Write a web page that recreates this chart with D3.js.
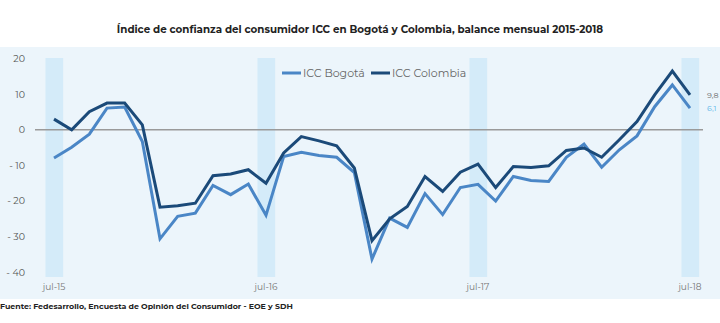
<!DOCTYPE html>
<html><head><meta charset="utf-8">
<script src="https://cdn.jsdelivr.net/npm/d3@7/dist/d3.min.js"></script>
<style>body{margin:0;background:#fff;}svg{display:block;font-family:Montserrat,"Open Sans",Lato,sans-serif;}</style>
</head><body>
<svg id="c" width="720" height="323"></svg>
<script>
const months = ["jul-15","ago-15","sep-15","oct-15","nov-15","dic-15","ene-16","feb-16","mar-16","abr-16","may-16","jun-16",
"jul-16","ago-16","sep-16","oct-16","nov-16","dic-16","ene-17","feb-17","mar-17","abr-17","may-17","jun-17",
"jul-17","ago-17","sep-17","oct-17","nov-17","dic-17","ene-18","feb-18","mar-18","abr-18","may-18","jun-18","jul-18"];
const bogota = [-7.9,-4.9,-1.2,6.1,6.4,-3.3,-30.6,-24.3,-23.4,-15.6,-18.2,-15.2,
-24.0,-7.5,-6.3,-7.2,-7.7,-12.0,-36.3,-24.8,-27.4,-17.9,-23.8,-16.2,
-15.3,-20.0,-13.1,-14.2,-14.5,-7.7,-4.0,-10.5,-5.6,-1.7,6.5,12.6,6.1];
const colombia = [3.0,0.0,5.1,7.5,7.5,1.4,-21.7,-21.3,-20.6,-12.9,-12.4,-11.2,
-15.0,-6.5,-1.9,-3.1,-4.5,-10.7,-31.1,-25.0,-21.5,-13.1,-17.3,-11.9,
-9.6,-16.2,-10.3,-10.6,-10.1,-5.8,-5.1,-7.7,-2.8,2.3,9.8,16.5,9.8];
const yTicks = [20,10,0,-10,-20,-30,-40];
const xTickLabels = ["jul-15","jul-16","jul-17","jul-18"];
const endLabels = {colombia:"9,8", bogota:"6,1"};
const title = "Índice de confianza del consumidor ICC en Bogotá y Colombia, balance mensual 2015-2018";
const source = "Fuente: Fedesarrollo, Encuesta de Opinión del Consumidor - EOE y SDH";

const svg = d3.select("#c");
const cBog = "#4a86c6", cCol = "#1b4a79";

// panel background
svg.append("rect").attr("x",0).attr("y",47).attr("width",720).attr("height",252).attr("fill","#ecf5fb");

const x = d3.scalePoint().domain(months).range([54,690]);
const y = d3.scaleLinear().domain([-40,20]).range([272.3,58.6]);
const bw = 17.7;

// highlight bands
svg.selectAll("rect.band").data(xTickLabels).join("rect").attr("class","band")
  .attr("x",d=>x(d)-bw/2+0.3).attr("width",bw).attr("y",58).attr("height",219).attr("fill","#d4ebf9");

// y tick labels
svg.selectAll("text.yt").data(yTicks).join("text").attr("class","yt")
  .attr("x",25).attr("y",d=>y(d)).attr("dy","0.35em").attr("text-anchor","end")
  .attr("font-size",9.5).attr("fill","#555")
  .text(d=>d<0?"- "+Math.abs(d):String(d));

// x tick labels
svg.selectAll("text.xt").data(xTickLabels).join("text").attr("class","xt")
  .attr("x",d=>x(d)).attr("y",290).attr("text-anchor","middle")
  .attr("font-size",9).attr("fill","#777").text(d=>d);

// zero line
svg.append("line").attr("x1",35).attr("x2",703).attr("y1",y(0)).attr("y2",y(0))
  .attr("stroke","#9a9a9a").attr("stroke-width",1.5);

const line = d3.line().x((d,i)=>x(months[i])).y(d=>y(d));
svg.append("path").datum(bogota).attr("d",line).attr("fill","none").attr("stroke",cBog).attr("stroke-width",3).attr("stroke-linejoin","miter");
svg.append("path").datum(colombia).attr("d",line).attr("fill","none").attr("stroke",cCol).attr("stroke-width",3).attr("stroke-linejoin","miter");

// end labels
svg.append("text").attr("x",707).attr("y",y(colombia[colombia.length-1])).attr("dy","0.35em")
  .attr("font-size",8).attr("fill","#666").text(endLabels.colombia);
svg.append("text").attr("x",707).attr("y",y(bogota[bogota.length-1])).attr("dy","0.35em")
  .attr("font-size",8).attr("fill","#5ab6ea").text(endLabels.bogota);

// legend
const lg = [{n:"ICC Bogotá",c:cBog,x:282},{n:"ICC Colombia",c:cCol,x:371}];
lg.forEach(l=>{
  svg.append("line").attr("x1",l.x).attr("x2",l.x+19).attr("y1",73).attr("y2",73).attr("stroke",l.c).attr("stroke-width",3);
  svg.append("text").attr("x",l.x+21).attr("y",73).attr("dy","0.35em").attr("font-size",11).attr("fill","#666").text(l.n);
});

// title
const t = svg.append("text").attr("x",360).attr("y",33).attr("text-anchor","middle")
  .attr("font-size",11).attr("font-weight","bold").attr("fill","#222").text(title);
const tw = t.node().getComputedTextLength();
t.attr("font-size", 11*487/tw);

// source
const s = svg.append("text").attr("x",0).attr("y",309).attr("font-size",8).attr("font-weight","bold").attr("fill","#222").text(source);
const sw = s.node().getComputedTextLength();
s.attr("font-size", 8*293/sw);
</script>
</body></html>
